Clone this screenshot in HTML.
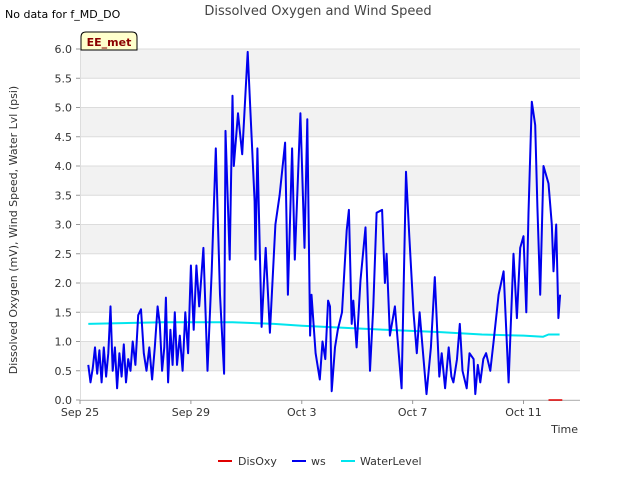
<!DOCTYPE html>
<html><head><meta charset="utf-8"><style>
body{margin:0;background:#fff;font-family:"DejaVu Sans","Liberation Sans",sans-serif;}
svg{display:block;font-family:"DejaVu Sans","Liberation Sans",sans-serif;}
</style></head><body>
<svg id="chart" width="640" height="480" xmlns="http://www.w3.org/2000/svg">
<text x="5" y="18" font-size="11" fill="#000">No data for f_MD_DO</text>
<text x="318" y="15" font-size="13" fill="#444" text-anchor="middle">Dissolved Oxygen and Wind Speed</text>
<g id="bands"></g><g id="grid"></g>
<g id="axes"></g>
<g id="series"></g>
<path d="M81,50 L81,37 Q81,32 86,32 L132,32 Q137,32 137,37 L137,50 Z" fill="#ffffcc" stroke="#000" stroke-width="1"/>
<text x="109" y="46" font-size="11" font-weight="bold" fill="#8b0000" text-anchor="middle">EE_met</text>
<text transform="translate(17,230) rotate(-90)" font-size="11" fill="#333" text-anchor="middle">Dissolved Oxygen (mV), Wind Speed, Water Lvl (psi)</text>
<text x="578" y="433" font-size="11" fill="#333" text-anchor="end">Time</text>
<g>
<line x1="218" y1="461" x2="232" y2="461" stroke="#e00000" stroke-width="2"/>
<text x="238" y="465" font-size="11" fill="#333">DisOxy</text>
<line x1="292" y1="461" x2="306" y2="461" stroke="#0000ee" stroke-width="2"/>
<text x="311" y="465" font-size="11" fill="#333">ws</text>
<line x1="341" y1="461" x2="355" y2="461" stroke="#00e5ee" stroke-width="2"/>
<text x="360" y="465" font-size="11" fill="#333">WaterLevel</text>
</g>
</svg>
<script>
const yTicks=[0,0.5,1,1.5,2,2.5,3,3.5,4,4.5,5,5.5,6];
const xTickDays=[0,4,8,12,16];
const xTickLabels=["Sep 25","Sep 29","Oct 3","Oct 7","Oct 11"];
const wsDays=[0.3,0.38,0.46,0.54,0.62,0.7,0.78,0.86,0.94,1.02,1.1,1.18,1.26,1.34,1.42,1.5,1.58,1.66,1.74,1.82,1.9,2.0,2.1,2.2,2.3,2.4,2.5,2.6,2.7,2.8,2.88,2.96,3.04,3.1,3.18,3.26,3.34,3.42,3.5,3.6,3.7,3.8,3.9,4.0,4.1,4.2,4.3,4.45,4.6,4.75,4.9,5.05,5.2,5.25,5.4,5.5,5.55,5.7,5.85,6.05,6.15,6.3,6.33,6.4,6.55,6.7,6.85,7.05,7.2,7.4,7.5,7.65,7.75,7.95,8.1,8.2,8.3,8.35,8.5,8.65,8.75,8.85,8.95,9.02,9.08,9.2,9.3,9.45,9.62,9.7,9.8,9.86,9.98,10.12,10.3,10.46,10.58,10.7,10.9,11.0,11.06,11.18,11.36,11.6,11.76,11.88,12.03,12.15,12.25,12.5,12.66,12.8,12.96,13.05,13.17,13.3,13.4,13.47,13.6,13.7,13.8,13.95,14.05,14.2,14.26,14.35,14.44,14.55,14.65,14.8,14.92,15.1,15.28,15.46,15.64,15.76,15.88,16.0,16.1,16.18,16.3,16.42,16.5,16.6,16.72,16.9,17.02,17.08,17.18,17.26,17.32];
const wsValues=[0.6,0.3,0.55,0.9,0.45,0.85,0.3,0.9,0.4,0.8,1.6,0.5,0.9,0.2,0.8,0.4,0.95,0.3,0.7,0.5,1.0,0.6,1.45,1.55,0.8,0.5,0.9,0.35,0.9,1.6,1.3,0.5,0.9,1.75,0.3,1.2,0.6,1.5,0.6,1.1,0.5,1.5,0.8,2.3,1.2,2.3,1.6,2.6,0.5,2.2,4.3,1.8,0.45,4.6,2.4,5.2,4.0,4.9,4.2,5.95,4.9,3.4,2.4,4.3,1.25,2.6,1.15,3.0,3.5,4.4,1.8,4.3,2.4,4.9,2.6,4.8,1.1,1.8,0.8,0.35,1.0,0.7,1.7,1.6,0.15,0.9,1.2,1.5,2.9,3.25,1.3,1.7,0.9,2.05,2.95,0.5,1.6,3.2,3.25,2.0,2.5,1.1,1.6,0.2,3.9,2.8,1.5,0.8,1.5,0.1,0.9,2.1,0.4,0.8,0.2,0.9,0.4,0.3,0.7,1.3,0.5,0.2,0.8,0.7,0.1,0.6,0.3,0.7,0.8,0.5,1.0,1.8,2.2,0.3,2.5,1.4,2.6,2.8,1.5,3.2,5.1,4.7,3.3,1.8,4.0,3.7,3.0,2.2,3.0,1.4,1.8];
const wlDays=[0.3,3,5.5,7,8,11,13,14.5,16,16.7,16.9,17.3];
const wlValues=[1.3,1.33,1.33,1.3,1.27,1.2,1.16,1.12,1.1,1.08,1.12,1.12];
const doDays=[16.9,17.4];
const doValues=[0.0,0.0];

const X0=80,X1=580,Y0=400,Y1=49;
const xs=d=>X0+d*27.72;
const ys=v=>Y0-(v/6)*(Y0-Y1);
const NS="http://www.w3.org/2000/svg";
function mk(tag,attrs,parent){const e=document.createElementNS(NS,tag);for(const k in attrs)e.setAttribute(k,attrs[k]);parent.appendChild(e);return e;}
const bands=document.getElementById('bands'),grid=document.getElementById('grid'),axes=document.getElementById('axes'),series=document.getElementById('series');
for(let i=0;i<yTicks.length-1;i++){
  if(i%2===1){const r=mk('rect',{x:X0,y:ys(yTicks[i+1]),width:X1-X0,height:ys(yTicks[i])-ys(yTicks[i+1]),fill:'#f2f2f2'},bands);
  
  }
}
yTicks.forEach(v=>{
  const l=mk('line',{x1:X0,x2:X1,y1:ys(v),y2:ys(v),stroke:'#dcdcdc','stroke-width':1},grid);
  
  
  const t=mk('text',{x:72,y:ys(v)+4,'font-size':11,fill:'#333','text-anchor':'end'},axes);
  t.textContent=v.toFixed(1);
  
  
  const tk=mk('line',{x1:X0-4,x2:X0,y1:ys(v),y2:ys(v),stroke:'#999'},axes);
  
  
});
const ax=mk('line',{x1:X0,x2:X1,y1:Y0+0.5,y2:Y0+0.5,stroke:'#bbb'},axes);


const ay=mk('line',{x1:X0+0.5,x2:X0+0.5,y1:Y1,y2:Y0,stroke:'#ddd'},axes);


xTickDays.forEach((d,i)=>{
  const tk=mk('line',{x1:xs(d),x2:xs(d),y1:Y0,y2:Y0+4,stroke:'#999'},axes);
  
  
  const t=mk('text',{x:xs(d),y:Y0+16,'font-size':11,fill:'#333','text-anchor':'middle'},axes);
  t.textContent=xTickLabels[i];
  
  
});
function line(days,vals,color,w,name){
  const d=days.map((t,i)=>(i?'L':'M')+xs(t).toFixed(1)+','+ys(vals[i]).toFixed(1)).join('');
  const p=mk('path',{d:d,fill:'none',stroke:color,'stroke-width':w,'stroke-linejoin':'round'},series);
  
  
}
line(doDays,doValues,'#e00000',1.5,'disoxy-line');
line(wlDays,wlValues,'#00e5ee',2,'waterlevel-line');
line(wsDays,wsValues,'#0000ee',2,'ws-line');
</script>
</body></html>
